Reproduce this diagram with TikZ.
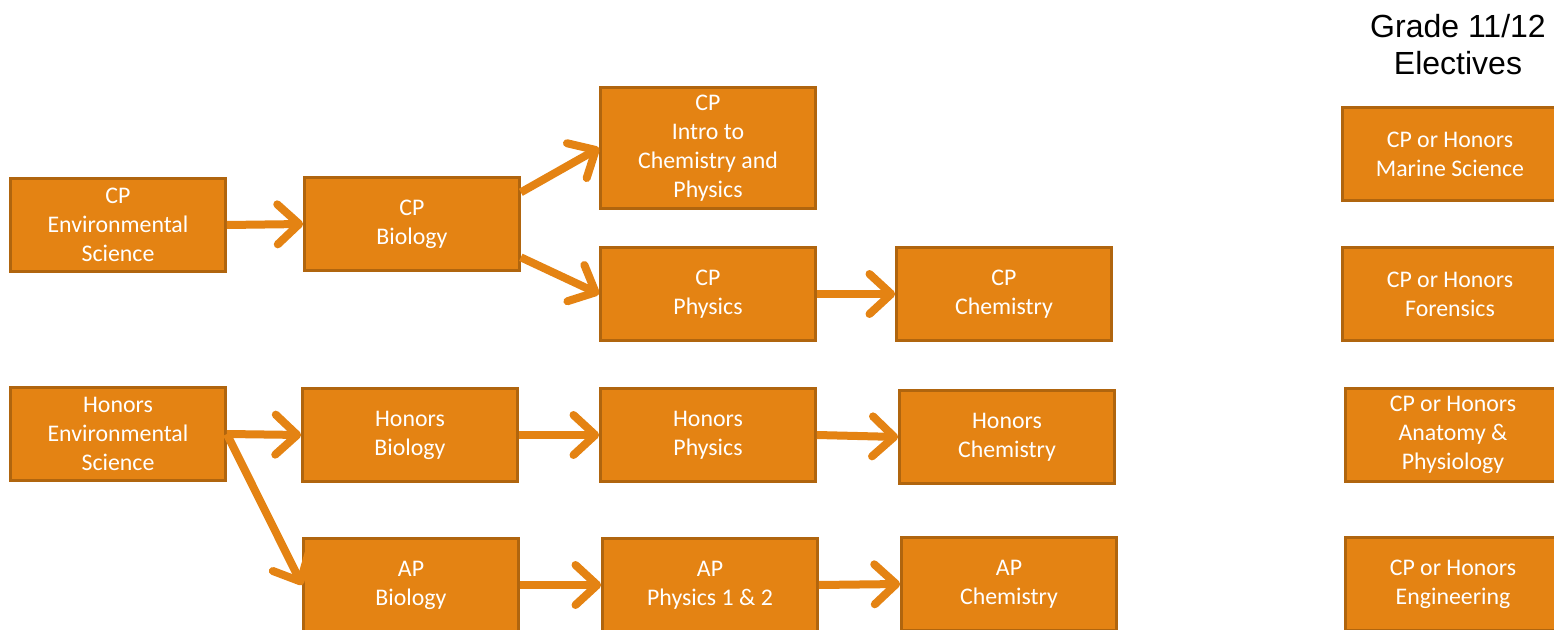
\documentclass[tikz,border=0pt]{standalone}
\usepackage{fontspec}
\setmainfont{Carlito}
\newfontfamily\titlefont{Liberation Sans}
\usetikzlibrary{
  positioning,
  arrows.meta}
\definecolor{crsfill}{RGB}{228,131,19}
\definecolor{crsedge}{RGB}{176,101,14}

\begin{document}
\begin{tikzpicture}[
  x=0.6pt, y=-0.6pt,
  course/.style={draw=crsedge, fill=crsfill, line width=1.6pt, text=white,
    align=center, inner sep=0pt, minimum width=129pt, minimum height=56pt,
    font=\fontsize{14.3}{17.4}\selectfont},
  flow/.style={draw=crsfill, line width=4.8pt,
    -{Straight Barb[length=13pt, width=24pt, round]}}
]%
  \useasboundingbox (0,0) rectangle (1554,630);

  % Title
  \node[font=\titlefont\fontsize{19.2}{22.2}\selectfont, align=center]
    (title) at (1458,45) {Grade 11/12\\ Electives};

  % CP track
  \node[course] (envcp) at (118,225) {CP\\Environmental\\Science};
  \node[course] (biocp) at (412,224) {CP\\Biology};
  \node[course, minimum height=72.6pt] (introcp) at (708,148)
    {CP\\Intro to\\Chemistry and\\Physics};
  \node[course] (physcp) at (708,294) {CP\\Physics};
  \node[course] (chemcp) at (1004,294) {CP\\Chemistry};

  % Honors track
  \node[course] (envhon) at (118,434) {Honors\\Environmental\\Science};
  \node[course] (biohon) at (410,435) {Honors\\Biology};
  \node[course] (physhon) at (708,435) {Honors\\Physics};
  \node[course] (chemhon) at (1007,437) {Honors\\Chemistry};

  % AP track
  \node[course] (bioap) at (411,585) {AP\\Biology};
  \node[course] (physap) at (710,585) {AP\\Physics 1 \& 2};
  \node[course] (chemap) at (1009,584) {AP\\Chemistry};

  % Electives
  \node[course] (marine) at (1450,154) {CP or Honors\\Marine Science};
  \node[course] (forensics) at (1450,294) {CP or Honors\\Forensics};
  \node[course] (anatomy) at (1453,435) {CP or Honors\\Anatomy \&\\Physiology};
  \node[course] (engineering) at (1453,584) {CP or Honors\\Engineering};

  % Arrows
  \draw[flow] (envcp.east) -- (biocp.west);
  \draw[flow] ([yshift=19pt]biocp.east) -- (introcp.west);
  \draw[flow] ([yshift=-20pt]biocp.east) -- (physcp.west);
  \draw[flow] (physcp.east) -- (chemcp.west);

  \draw[flow] (envhon.east) -- (biohon.west);
  \draw[flow] (envhon.east) -- (bioap.west);
  \draw[flow] (biohon.east) -- (physhon.west);
  \draw[flow] (physhon.east) -- (chemhon.west);

  \draw[flow] (bioap.east) -- (physap.west);
  \draw[flow] (physap.east) -- (chemap.west);
\end{tikzpicture}
\end{document}
